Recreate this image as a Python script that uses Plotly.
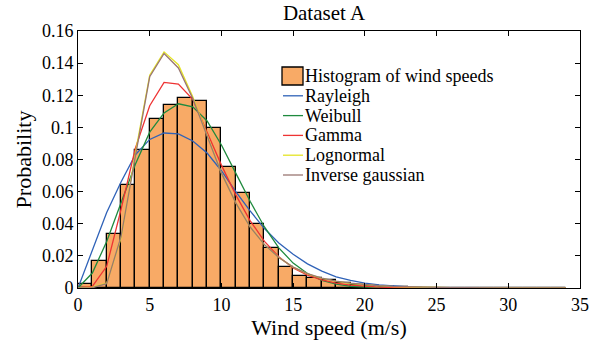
import plotly.graph_objects as go

# Histogram bins (edges) and probabilities
bin_edges = list(range(0, 35))  # 0..34
hist_prob = [0.0028, 0.0168, 0.0335, 0.0640, 0.0857, 0.1053, 0.1140, 0.1182, 0.1165, 0.0998,
             0.0753, 0.0594, 0.0397, 0.0248, 0.0130, 0.0077, 0.0062, 0.0050, 0.0029, 0.0017,
             0.0010, 0.0006, 0.0004, 0.0003, 0.0002, 0.0001, 0.0001, 0.0001, 0.0, 0.0,
             0.0, 0.0, 0.0, 0.0]

# Fitted curves evaluated at integer wind speeds
x_fit = list(range(0, 35))
rayleigh = [0, 0.024, 0.047, 0.066, 0.083, 0.0925, 0.0965, 0.096, 0.0915, 0.084,
            0.073, 0.060, 0.048, 0.037, 0.028, 0.021, 0.015, 0.0105, 0.007, 0.0047,
            0.003, 0.0019, 0.0012, 0.0007, 0.0004, 0.0002, 0.0001, 0.0001, 0, 0,
            0, 0, 0, 0, 0]
weibull = [0, 0.0093, 0.029, 0.053, 0.077, 0.097, 0.109, 0.1147, 0.1128, 0.104,
           0.089, 0.0715, 0.054, 0.038, 0.025, 0.0155, 0.009, 0.0048, 0.0024, 0.0011,
           0.0005, 0.0002, 0.0001, 0, 0, 0, 0, 0, 0, 0,
           0, 0, 0, 0, 0]
gamma = [0, 0.001, 0.0135, 0.049, 0.087, 0.1135, 0.128, 0.127, 0.1175, 0.097,
         0.0765, 0.058, 0.042, 0.029, 0.0195, 0.0125, 0.008, 0.005, 0.003, 0.0018,
         0.001, 0.0006, 0.0003, 0.0002, 0.0001, 0.0001, 0, 0, 0, 0,
         0, 0, 0, 0, 0]
lognormal = [0, 0.0005, 0.003, 0.031, 0.084, 0.1325, 0.147, 0.139, 0.119, 0.095,
             0.0715, 0.053, 0.038, 0.027, 0.019, 0.013, 0.0088, 0.006, 0.0041, 0.0028,
             0.0019, 0.0013, 0.0009, 0.0006, 0.0004, 0.0003, 0.0002, 0.0002, 0.0001, 0.0001,
             0.0001, 0.0001, 0, 0, 0]
inv_gauss = [0, 0.0002, 0.0027, 0.032, 0.082, 0.1315, 0.146, 0.137, 0.118, 0.095,
             0.0715, 0.053, 0.038, 0.027, 0.019, 0.013, 0.009, 0.0062, 0.0043, 0.003,
             0.002, 0.0014, 0.001, 0.0007, 0.0005, 0.0003, 0.0002, 0.0002, 0.0001, 0.0001,
             0.0001, 0, 0, 0, 0]

y_ticks = [0, 0.02, 0.04, 0.06, 0.08, 0.1, 0.12, 0.14, 0.16]
y_tick_text = ["0", "0.02", "0.04", "0.06", "0.08", "0.1", "0.12", "0.14", "0.16"]
x_ticks = [0, 5, 10, 15, 20, 25, 30, 35]

hist_name = "Histogram of wind speeds"
curve_names = ["Rayleigh", "Weibull", "Gamma", "Lognormal", "Inverse gaussian"]
curve_colors = ["#2F62B8", "#1F8A3E", "#EE3333", "#E4E424", "#9A7672"]
bar_color = "#F8AA66"

FONT = "Liberation Serif"

# plot-area geometry (pixels)
W, H = 598, 348
L, R, T, B = 78, 18, 31, 60
PW, PH = W - L - R, H - T - B


def px_x(px):
    return (px - L) / PW


def px_y(py):
    return (H - B - py) / PH


bin_centers = [(bin_edges[i] + bin_edges[i + 1]) / 2 for i in range(len(bin_edges) - 1)]
bin_widths = [bin_edges[i + 1] - bin_edges[i] for i in range(len(bin_edges) - 1)]

fig = go.Figure()
fig.add_trace(go.Bar(
    x=bin_centers, y=hist_prob, width=bin_widths, name=hist_name,
    marker=dict(color=bar_color, line=dict(color="black", width=1.3)),
))
curve_vals = [rayleigh, weibull, gamma, lognormal, inv_gauss]
for name, vals, col in zip(curve_names, curve_vals, curve_colors):
    fig.add_trace(go.Scatter(x=x_fit, y=vals, mode="lines", name=name,
                             line=dict(color=col, width=1.3)))

# Legend drawn as real text next to small keys
LEG_FONT = 18
row0, row_step = 76, 19.8
sym_l, sym_r, text_l = 282, 303, 304
shapes, annotations = [], []
shapes.append(dict(type="rect", xref="paper", yref="paper",
                   x0=px_x(sym_l), x1=px_x(sym_r), y0=px_y(row0 + 9), y1=px_y(row0 - 9),
                   fillcolor=bar_color, line=dict(color="black", width=1.3)))
annotations.append(dict(text=hist_name, xref="paper", yref="paper",
                        x=px_x(text_l), y=px_y(row0), xanchor="left", yanchor="middle",
                        showarrow=False, borderpad=0,
                        font=dict(family=FONT, size=LEG_FONT, color="black")))
for i, (name, col) in enumerate(zip(curve_names, curve_colors)):
    ry = row0 + row_step * (i + 1)
    shapes.append(dict(type="line", xref="paper", yref="paper",
                       x0=px_x(sym_l + 1), x1=px_x(sym_r), y0=px_y(ry), y1=px_y(ry),
                       line=dict(color=col, width=1.3)))
    annotations.append(dict(text=name, xref="paper", yref="paper",
                            x=px_x(text_l), y=px_y(ry), xanchor="left", yanchor="middle",
                            showarrow=False, borderpad=0,
                            font=dict(family=FONT, size=LEG_FONT, color="black")))

fig.update_layout(
    width=W, height=H,
    margin=dict(l=L, r=R, t=T, b=B),
    paper_bgcolor="white", plot_bgcolor="white",
    font=dict(family=FONT, size=18, color="black"),
    title=dict(text="Dataset A", x=324 / W, xanchor="center", y=1 - 13 / H, yanchor="middle",
               font=dict(family=FONT, size=21, color="black")),
    bargap=0,
    showlegend=False,
    shapes=shapes,
    annotations=annotations,
)
fig.update_xaxes(
    range=[0, 35], tickvals=x_ticks, ticks="inside", ticklen=5, tickcolor="black",
    showline=True, linecolor="black", linewidth=1, mirror="ticks",
    showgrid=False, zeroline=False, automargin=False,
    title=dict(text="Wind speed (m/s)", font=dict(family=FONT, size=22), standoff=4),
    tickfont=dict(family=FONT, size=18),
)
fig.update_yaxes(
    range=[0, 0.16], tickvals=y_ticks, ticktext=y_tick_text, ticks="inside", ticklen=5,
    tickcolor="black",
    showline=True, linecolor="black", linewidth=1, mirror="ticks",
    showgrid=False, zeroline=False, automargin=False,
    title=dict(text="Probability", font=dict(family=FONT, size=22), standoff=4),
    tickfont=dict(family=FONT, size=18),
)

fig.write_html("out.html", config={"displayModeBar": False},
               post_script="document.body.style.margin='0';")
